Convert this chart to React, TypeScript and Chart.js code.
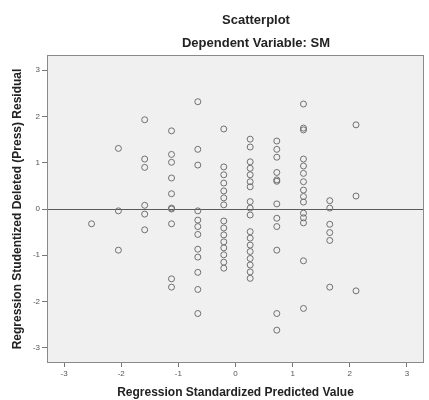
import React, { useEffect, useRef } from "react";
import { Chart, registerables } from "chart.js";

Chart.register(...registerables);

const chartTitle = "Scatterplot";
const chartSubtitle = "Dependent Variable: SM";
const xAxisTitle = "Regression Standardized Predicted Value";
const yAxisTitle = "Regression Studentized Deleted (Press) Residual";

// Discrete predicted values (x columns)
const predictedLevels = [-2.52, -2.05, -1.59, -1.12, -0.66, -0.205, 0.257, 0.723, 1.19, 1.65, 2.11];

// Residuals observed at each predicted level
const residualsByLevel: number[][] = [
  [-0.32],
  [1.31, -0.04, -0.89],
  [1.93, 1.08, 0.9, 0.08, -0.11, -0.45],
  [1.69, 1.18, 1.01, 0.67, 0.33, 0.0, 0.02, -0.32, -1.51, -1.69],
  [2.32, 1.29, 0.95, -0.04, -0.24, -0.38, -0.55, -0.87, -1.04, -1.37, -1.74, -2.26],
  [1.73, 0.91, 0.74, 0.56, 0.39, 0.24, 0.09, -0.26, -0.41, -0.56, -0.71, -0.84, -0.99, -1.15, -1.28],
  [1.51, 1.34, 1.02, 0.88, 0.74, 0.59, 0.48, 0.16, 0.02, -0.13, -0.49, -0.63, -0.78, -0.92, -1.07, -1.21, -1.36, -1.5],
  [1.47, 1.29, 1.12, 0.79, 0.63, 0.6, 0.11, -0.2, -0.38, -0.89, -2.26, -2.62],
  [2.27, 1.75, 1.71, 1.08, 0.93, 0.77, 0.59, 0.41, 0.27, 0.15, -0.09, -0.19, -0.3, -1.12, -2.15],
  [0.18, 0.02, -0.33, -0.51, -0.68, -1.69],
  [1.82, 0.28, -1.77],
];

const xRange = [-3.3, 3.3];
const yRange = [-3.33, 3.33];

const FONT = "'Liberation Sans', Arial, sans-serif";

export default function App() {
  const ref = useRef<HTMLCanvasElement | null>(null);

  useEffect(() => {
    if (!ref.current) return;
    const points: { x: number; y: number }[] = [];
    predictedLevels.forEach((px, i) => {
      residualsByLevel[i].forEach((r) => points.push({ x: px, y: r }));
    });

    const framePlugin = {
      id: "spssFrame",
      beforeDraw(chart: any) {
        const { ctx, chartArea: a } = chart;
        ctx.save();
        ctx.fillStyle = "#f0f0f0";
        ctx.fillRect(a.left, a.top, a.right - a.left, a.bottom - a.top);
        ctx.restore();
      },
      afterDraw(chart: any) {
        const { ctx, chartArea: a } = chart;
        ctx.save();
        ctx.strokeStyle = "#8a8a8a";
        ctx.lineWidth = 1;
        ctx.strokeRect(a.left + 0.5, a.top + 0.5, a.right - a.left - 1, a.bottom - a.top - 1);
        ctx.fillStyle = "#222";
        ctx.textAlign = "center";
        ctx.textBaseline = "middle";
        ctx.font = `bold 13px ${FONT}`;
        ctx.fillText(chartTitle, 256, 20);
        ctx.fillText(chartSubtitle, 256, 43);
        ctx.restore();
      },
    };

    const chart = new Chart(ref.current, {
      type: "scatter",
      data: {
        datasets: [
          {
            data: points,
            pointStyle: "circle",
            pointRadius: 3,
            pointHoverRadius: 3,
            borderColor: "#707070",
            borderWidth: 1,
            backgroundColor: "rgba(0,0,0,0)",
          },
        ],
      },
      options: {
        responsive: false,
        animation: false,
        events: [],
        layout: { padding: { top: 55, right: 5, left: 0, bottom: 0 } },
        plugins: {
          legend: { display: false },
          tooltip: { enabled: false },
          title: { display: false },
        },
        scales: {
          x: {
            type: "linear",
            min: xRange[0],
            max: xRange[1],
            afterFit: (s: any) => {
              s.height = 37;
            },
            ticks: {
              stepSize: 1,
              includeBounds: false,
              color: "#555",
              padding: 2,
              font: { family: FONT, size: 8 },
              callback: (v: any) => String(v),
            },
            grid: {
              drawOnChartArea: false,
              drawTicks: true,
              tickLength: 4,
              tickColor: "#777",
            },
            border: { display: false },
            title: {
              display: true,
              text: xAxisTitle,
              color: "#222",
              font: { family: FONT, size: 12, weight: "bold" },
              padding: { top: 0, bottom: 0 },
            },
          },
          y: {
            type: "linear",
            min: yRange[0],
            max: yRange[1],
            afterFit: (s: any) => {
              s.width = 47;
            },
            ticks: {
              stepSize: 1,
              includeBounds: false,
              color: "#555",
              padding: 2,
              font: { family: FONT, size: 8 },
              callback: (v: any) => String(v),
            },
            grid: {
              drawOnChartArea: true,
              drawTicks: true,
              tickLength: 5,
              tickColor: "#777",
              color: (c: any) => (c.tick && c.tick.value === 0 ? "#5a5a5a" : "rgba(0,0,0,0)"),
              lineWidth: 1,
            },
            border: { display: false },
            title: {
              display: true,
              text: yAxisTitle,
              color: "#222",
              font: { family: FONT, size: 12, weight: "bold" },
              padding: { top: 10, bottom: 0 },
            },
          },
        },
      },
      plugins: [framePlugin],
    });
    return () => chart.destroy();
  }, []);

  return (
    <div style={{ position: "fixed", left: 0, top: 0, width: 429, height: 400, background: "#fff" }}>
      <canvas ref={ref} width={429} height={400} style={{ display: "block", width: 429, height: 400 }} />
    </div>
  );
}
